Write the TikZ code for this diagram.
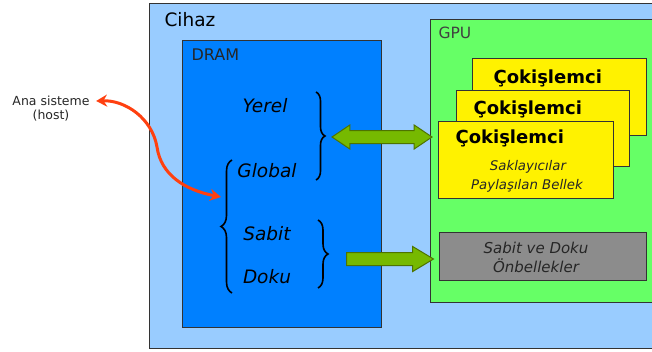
\documentclass[tikz,border=0pt]{standalone}
\usepackage{fontspec}
\setmainfont{DejaVu Sans}
\usetikzlibrary{arrows.meta,positioning,shapes.arrows,decorations.pathreplacing}

\definecolor{cihazblue}{RGB}{153,204,255}
\definecolor{dramblue}{RGB}{0,128,255}
\definecolor{gpugreen}{RGB}{102,255,102}
\definecolor{busgreen}{RGB}{118,185,0}
\definecolor{busedge}{RGB}{78,115,0}
\definecolor{hostred}{RGB}{255,64,16}
\definecolor{cachegray}{RGB}{140,140,140}

\tikzset{
  box/.style={draw=black!80,line width=1pt,anchor=north west,inner sep=0pt},
  coproc/.style={box,fill=yellow,minimum width=175pt,minimum height=77pt},
  memlbl/.style={anchor=base,font=\fontsize{18.5}{20}\selectfont\itshape},
  cotitle/.style={anchor=base west,font=\fontsize{18}{20}\selectfont\bfseries},
  smalllbl/.style={anchor=base,font=\fontsize{13.3}{15}\selectfont\itshape,text=black!85},
  curly/.style={decorate,decoration={brace,amplitude=#1},line width=1.6pt},
  bus/.style={draw=busedge,fill=busgreen,line width=1pt,inner sep=0pt,
    text height=6pt,text depth=6pt},
  hostarrow/.style={hostred,line width=3pt,
    {Stealth[length=11pt,width=12pt]}-{Stealth[length=11pt,width=12pt]}}
}

\begin{document}
\begin{tikzpicture}[x=1pt,y=-1pt]
  \useasboundingbox (0,0) rectangle (652,351);
  % outer boxes
  \node[box,fill=cihazblue,minimum width=520pt,minimum height=345pt] (cihaz) at (149,3) {};
  \node[box,fill=dramblue,minimum width=199pt,minimum height=287pt] (dram) at (182,40) {};
  \node[box,fill=gpugreen,minimum width=240pt,minimum height=283pt] (gpu) at (430,19) {};
  \node[anchor=base west,font=\fontsize{18.5}{20}\selectfont] at (161,26) {Cihaz};
  \node[anchor=base west,font=\fontsize{16}{18}\selectfont,text=black!85] at (188,60) {DRAM};
  \node[anchor=base west,font=\fontsize{15.5}{18}\selectfont,text=black!75] at (435,38) {GPU};

  % coprocessors
  \node[coproc,minimum width=174pt] (coprocA) at (472,58) {};
  \node[cotitle] at (490,83) {Çokişlemci};
  \node[coproc,minimum width=173pt,minimum height=76pt] (coprocB) at (456,90) {};
  \node[cotitle] at (470,114) {Çokişlemci};
  \node[coproc] (coprocC) at (438,121) {};
  \node[cotitle] at (452,143) {Çokişlemci};
  \node[smalllbl] (regs) at (528,170) {Saklayıcılar};
  \node[smalllbl] (shmem) at (527,189) {Paylaşılan Bellek};

  % caches
  \node[box,fill=cachegray,minimum width=207pt,minimum height=48pt] (cache) at (439,232) {};
  \node[anchor=base,align=center,font=\fontsize{15}{19}\selectfont\itshape,text=black!85]
    at (536,272) {Sabit ve Doku\\Önbellekler};

  % memory spaces
  \node[memlbl] (yerel) at (265,112) {Yerel};
  \node[memlbl] (global) at (267,177) {Global};
  \node[memlbl] (sabit) at (267,240) {Sabit};
  \node[memlbl] (doku) at (267,283) {Doku};
  \draw[curly=9pt] (316,92) -- (316,180);
  \draw[curly=11pt] (232,293) -- (232,160);
  \draw[curly=10pt] (318,220) -- (318,288);

  % transfers
  \node[bus,double arrow,double arrow head extend=5.5pt,double arrow tip angle=68,
    minimum height=100pt] (busA) at (382,137) {};
  \node[bus,single arrow,single arrow head extend=6pt,single arrow tip angle=62,
    minimum height=87pt,anchor=tail] (busB) at (346,259) {};

  % host
  \node[align=center,font=\fontsize{12.5}{14}\selectfont,text=black!85] (host) at (51,109)
    {Ana sisteme\\(host)};
  \coordinate (globalin) at (221,197);
  \draw[hostarrow] ([shift={(3,-8)}]host.east) .. controls (125,100) and (152,118) .. (157,147)
    .. controls (161,175) and (185,190) .. (globalin);
\end{tikzpicture}
\end{document}
